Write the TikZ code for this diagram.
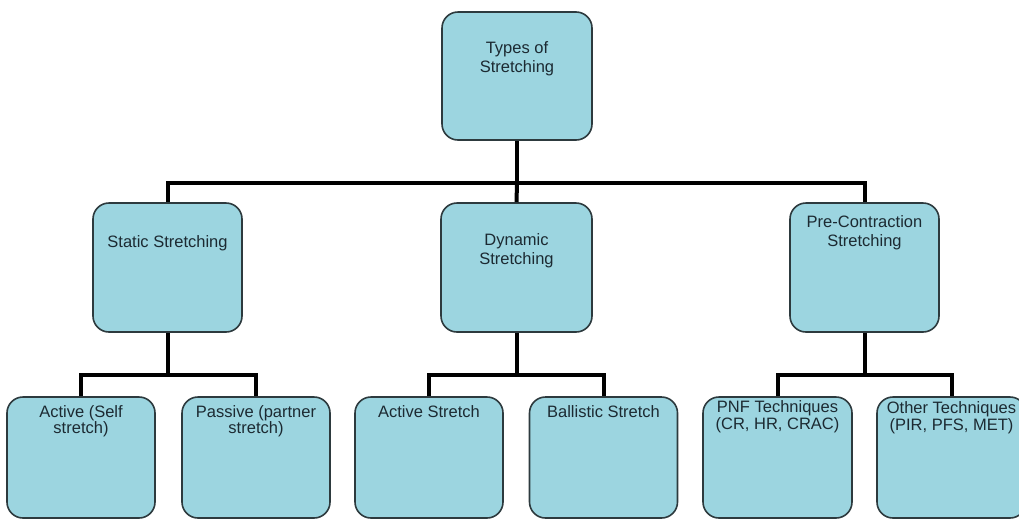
\documentclass[tikz,border=0pt]{standalone}
\usepackage{fontspec}
\setmainfont{Liberation Sans}
\definecolor{boxfill}{RGB}{156,213,224}
\definecolor{boxline}{RGB}{45,58,62}
\definecolor{txt}{RGB}{28,42,50}
\begin{document}
\begin{tikzpicture}[x=1pt,y=-1pt,
  box/.style={draw=boxline, line width=1.6pt, fill=boxfill, rounded corners=16pt, inner sep=0pt, minimum width=149pt},
  midbox/.style={box, minimum height=129pt},
  lowbox/.style={box, minimum height=121pt},
  lbl/.style={anchor=north, inner sep=0pt, align=center, text=txt, font=\fontsize{16.5}{19.5}\selectfont},
  lbls/.style={lbl, font=\fontsize{16.5}{16}\selectfont},
  lblp/.style={lbl, font=\fontsize{16.5}{17.5}\selectfont},
  conn/.style={line width=4pt, draw=black, line join=miter}]
\useasboundingbox (0,0) rectangle (1019,520);
\fill[white] (0,0) rectangle (1019,520);

% boxes
\node[box, minimum width=150pt, minimum height=128pt] (top) at (517,76) {};
\node[midbox] (static) at (167.5,267.5) {};
\node[midbox, minimum width=151pt] (dyn) at (516.5,267.5) {};
\node[midbox] (pre) at (864.5,267.5) {};
\node[lowbox, minimum width=148pt] (a1) at (81,457.5) {};
\node[lowbox, minimum width=148pt] (a2) at (256,457.5) {};
\node[lowbox, minimum width=148pt] (b1) at (429,457.5) {};
\node[lowbox, minimum width=148pt] (b2) at (603.5,457.5) {};
\node[lowbox] (c1) at (777.5,457.5) {};
\node[lowbox] (c2) at (951.5,457.5) {};

% labels
\node[lbl] (tTop) at (517,41) {Types of\\Stretching};
\node[lbl] (tStatic) at (167.5,235) {Static Stretching};
\node[lbl] (tDyn) at (516.5,233) {Dynamic\\Stretching};
\node[lbl] (tPre) at (864.5,215) {Pre-Contraction\\Stretching};
\node[lbls] (tA1) at (81,405) {Active (Self\\stretch)};
\node[lbls] (tA2) at (256,405) {Passive (partner\\stretch)};
\node[lbl] (tB1) at (429,405) {Active Stretch};
\node[lbl] (tB2) at (603.5,405) {Ballistic Stretch};
\node[lblp] (tC1) at (777.5,400) {PNF Techniques\\(CR, HR, CRAC)};
\node[lblp] (tC2) at (951.5,401) {Other Techniques\\(PIR, PFS, MET)};

% connectors
\coordinate (j0) at (517,183);
\draw[conn] (top.south) -- (j0);
\draw[conn] (static.north) |- (j0) -| (pre.north);
\draw[conn] (j0) -- (dyn.north);

\coordinate (js) at (167.5,375);
\draw[conn] (static.south) -- (js);
\draw[conn] (a1.north) |- (js) -| (a2.north);

\coordinate (jd) at (516.5,375);
\draw[conn] (dyn.south) -- (jd);
\draw[conn] (b1.north) |- (jd) -| (b2.north);

\coordinate (jp) at (864.5,375);
\draw[conn] (pre.south) -- (jp);
\draw[conn] (c1.north) |- (jp) -| (c2.north);
\end{tikzpicture}
\end{document}
